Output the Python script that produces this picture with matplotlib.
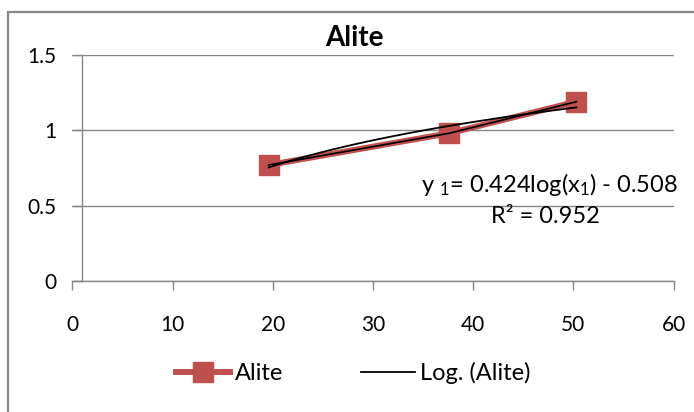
import numpy as np
import matplotlib
matplotlib.use("Agg")
import matplotlib.pyplot as plt
from matplotlib.patches import Rectangle

plt.rcParams['font.family'] = ['Lato', 'DejaVu Sans']
plt.rcParams['mathtext.fontset'] = 'custom'
plt.rcParams['mathtext.rm'] = 'Lato'
plt.rcParams['mathtext.it'] = 'Lato'

# данные
x_alite = [19.6, 37.6, 50.3]
y_alite = [0.77, 0.981, 1.191]
fit_a = 0.424
fit_b = -0.508
x_ticks = [0, 10, 20, 30, 40, 50, 60]
y_ticks = [0, 0.5, 1, 1.5]
y_tick_labels = ["0", "0.5", "1", "1.5"]

red = "#C0504D"
gray = "#868686"

fig = plt.figure(figsize=(6.94, 4.12), dpi=100)
ax = fig.add_axes([0.1042, 0.3187, 0.8663, 0.5471])

# рамка вокруг диаграммы
fig.patches.append(Rectangle((8.3 / 694, -0.1), 1.2, 1.1 - 11.7 / 412,
                             transform=fig.transFigure, fill=False,
                             edgecolor=gray, linewidth=1.6))

ax.plot(x_alite, y_alite, color=red, linewidth=4.3, marker="s",
        markersize=14, markerfacecolor=red, markeredgecolor=red,
        label="Alite", zorder=3)
ax.plot(x_alite, y_alite, color="black", linewidth=1.2, zorder=4)

# логарифмический тренд
x_fit = np.linspace(min(x_alite), max(x_alite), 100)
y_fit = fit_a * np.log(x_fit) + fit_b
ax.plot(x_fit, y_fit, color="black", linewidth=1.3, label="Log. (Alite)", zorder=5)

ax.set_xlim(0, 60)
ax.set_ylim(0, 1.5)
ax.set_xticks(x_ticks)
ax.set_yticks(y_ticks)
ax.set_yticklabels(y_tick_labels)
ax.tick_params(axis="x", direction="out", length=6.5, width=1, color=gray,
               labelsize=15, pad=18)
ax.tick_params(axis="y", direction="out", length=6.5, width=1, color=gray,
               labelsize=15, pad=12)
ax.grid(axis="y", color=gray, linewidth=1.0)
ax.set_axisbelow(True)
for side in ["top", "right"]:
    ax.spines[side].set_visible(False)
ax.spines["left"].set_position(("data", 0.94))
ax.spines["left"].set_color(gray)
ax.spines["bottom"].set_color(gray)
ax.spines["left"].set_linewidth(1.0)
ax.spines["bottom"].set_linewidth(1.0)

fig.text(354 / 694, 1 - 46 / 412, "Alite", fontsize=20, fontweight="bold",
         ha="center", va="baseline")

fig.text(678 / 694, 1 - 191.5 / 412, "y $_1$= 0.424log(x$_1$) - 0.508",
         fontsize=17, ha="right", va="baseline")
fig.text(545 / 694, 1 - 223 / 412, "R² = 0.952", fontsize=17,
         ha="center", va="baseline")

fig.legend(loc="center", bbox_to_anchor=(0.509, 1 - 373 / 412), ncol=2,
           frameon=False, fontsize=17, handlelength=2.3, handletextpad=0.2,
           columnspacing=3.3, markerscale=1.0)

fig.savefig("out.png", dpi=100)
